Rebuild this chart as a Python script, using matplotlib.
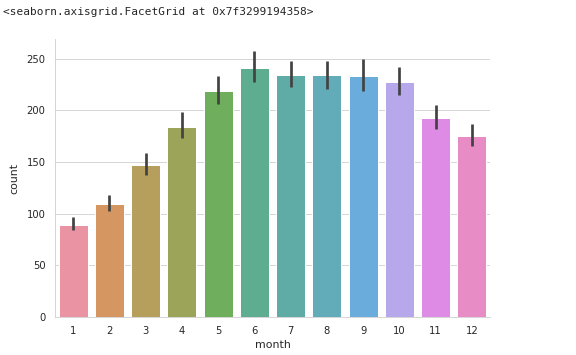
import numpy as np
import matplotlib
matplotlib.use("Agg")
import matplotlib.pyplot as plt
import seaborn as sns

months = [1, 2, 3, 4, 5, 6, 7, 8, 9, 10, 11, 12]
counts = [89, 109.5, 147, 184, 219, 241, 234.5, 234, 233, 227.5, 193, 175]
ci_low = [84, 103, 137.5, 173, 206, 227, 222.5, 221, 219, 214.5, 182, 165]
ci_high = [96.5, 118, 158.5, 198, 233, 257, 248, 247.5, 249.5, 241.5, 205, 187]

sns.set_style("whitegrid")

fig = plt.figure(figsize=(8, 355 / 72), dpi=72)
ax = fig.add_axes([55 / 576, 38 / 355, 435 / 576, 278 / 355])

# seaborn palette, a little washed out to match the notebook render
colors = [sns.desaturate(c, 0.75) for c in sns.color_palette("husl", 12)]
colors = [tuple(0.86 * np.array(c) + 0.14) for c in colors]
pos = np.arange(len(months))
ax.bar(pos, counts, width=0.8, color=colors, zorder=2)
ax.vlines(pos, ci_low, ci_high, color=".26", lw=2.7, zorder=3)

ax.set_xlim(-0.5, 11.5)
ax.set_ylim(0, 269)
ax.set_xticks(pos)
ax.set_xticklabels([str(m) for m in months])
ax.set_yticks([0, 50, 100, 150, 200, 250])
ax.tick_params(labelsize=10, pad=6)
ax.xaxis.grid(False)
ax.set_axisbelow(True)
ax.set_xlabel("month", fontsize=11, labelpad=4)
ax.set_ylabel("count", fontsize=11, labelpad=7)
for s in ["top", "right"]:
    ax.spines[s].set_visible(False)

fig.text(3 / 576, 1 - 12 / 355, "<seaborn.axisgrid.FacetGrid at 0x7f3299194358>",
         family="DejaVu Sans Mono", fontsize=11.1, va="center", ha="left")

fig.savefig("out.png", dpi=72)
